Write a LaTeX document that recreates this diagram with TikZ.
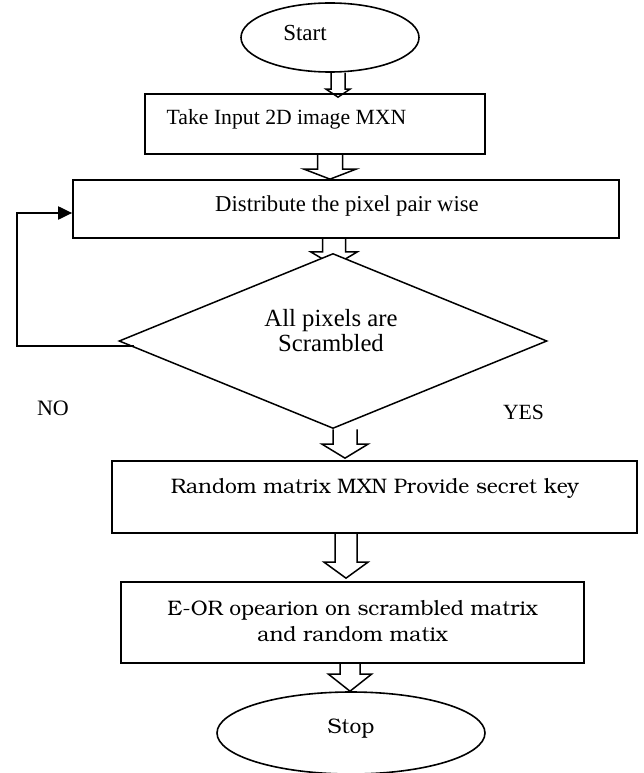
\documentclass[tikz,border=0pt]{standalone}
\usepackage[T1]{fontenc}
\usepackage{fontspec}
\setmainfont{Liberation Serif}
\usetikzlibrary{calc,shapes.geometric,arrows.meta,backgrounds}
\newcommand\bkfont{\fontencoding{T1}\fontfamily{pbk}\selectfont}
\newcommand\blockarr[7]{%
  \coordinate (bat) at (#1 |- #2);
  \coordinate (bap) at ($(#1 |- #3)+(0,#4)$);
  \draw[barrow] ($(bat)+(-#5,0)$) -- ($(bap)+(-#5,-#7)$) -- ($(bap)+(-#6,-#7)$) -- (bap)
    -- ($(bap)+(#6,-#7)$) -- ($(bap)+(#5,-#7)$) -- ($(bat)+(#5,0)$);}
\begin{document}
\begin{tikzpicture}[x=1pt,y=-1pt,
  boxst/.style={draw,line width=1.7pt,rectangle,inner sep=0pt},
  ellst/.style={draw,line width=1.6pt,ellipse,inner sep=0pt},
  barrow/.style={draw,line width=1.5pt,fill=white,line join=miter},
  tms/.style={inner sep=0pt,font=\fontsize{#1}{#1}\selectfont},
  bkm/.style={inner sep=0pt,font=\bkfont\fontsize{#1}{#1}\selectfont},
  loopline/.style={line width=2pt,-{Triangle[length=14pt,width=13pt]}}]
\useasboundingbox (0,0) rectangle (644,773);
% shapes
\node[ellst,minimum width=178pt,minimum height=69pt] (start) at (330,37.5) {};
\node[boxst,minimum width=340pt,minimum height=60pt] (box1) at (315,124) {};
\node[boxst,minimum width=546pt,minimum height=58pt] (box2) at (346,209) {};
\node[boxst,minimum width=525pt,minimum height=72pt] (box3) at (374.5,497) {};
\node[boxst,minimum width=463pt,minimum height=81pt] (box4) at (352.5,622.5) {};
\node[ellst,minimum width=268pt,minimum height=82pt] (stop) at (351,733) {};
\node[draw,line width=1.5pt,diamond,fill=white,inner sep=0pt,aspect=2.446,
      minimum width=428pt,minimum height=175pt] (dia) at (333,341) {};
% texts
\node[tms=23] (tstart) at (305,33) {Start};
\node[tms=21.7] (tbox1) at (286.5,119) {Take Input 2D image MXN};
\node[tms=22.7] (tbox2) at (347,206) {Distribute the pixel pair wise};
\node[tms=24.7,align=center,font=\fontsize{24.7}{25}\selectfont] (tdia) at (331,331) {All pixels are\\Scrambled};
\node[tms=22] (tno) at (53,408) {NO};
\node[tms=21.7] (tyes) at (523.5,412) {YES};
\node[bkm=21] (tbox3) at (375,489) {Random matrix MXN Provide secret key};
\node[bkm=21,align=center,font=\bkfont\fontsize{21}{26}\selectfont] (tbox4) at (352.5,621) {E-OR opearion on scrambled matrix\\and random matix};
\node[bkm=21] (tstop) at (351,729) {Stop};
% block arrows
\coordinate (ax1) at (338,0);
\coordinate (ax2) at (330,0);
\coordinate (ax3) at (334,0);
\coordinate (ax4) at (345,0);
\coordinate (ax5) at (346,0);
\coordinate (ax6) at (350,0);
\begin{scope}[on background layer]
\blockarr{ax1}{start.south}{box1.north}{4}{7}{12}{8}
\blockarr{ax2}{box1.south}{box2.north}{0}{12.5}{26}{10}
\blockarr{ax3}{box2.south}{dia.north}{13}{11.5}{23.5}{14}
\blockarr{ax4}{dia.south}{box3.north}{-2}{12}{23}{14}
\blockarr{ax5}{box3.south}{box4.north}{-3}{11}{22}{16}
\blockarr{ax6}{box4.south}{stop.north}{0}{10}{21.5}{17}
\end{scope}
% NO loop
\coordinate (lp) at (17,213);
\draw[loopline] ($(dia.west)+(16,5)$) -| (lp) -- (box2.west |- lp);
\end{tikzpicture}
\end{document}
